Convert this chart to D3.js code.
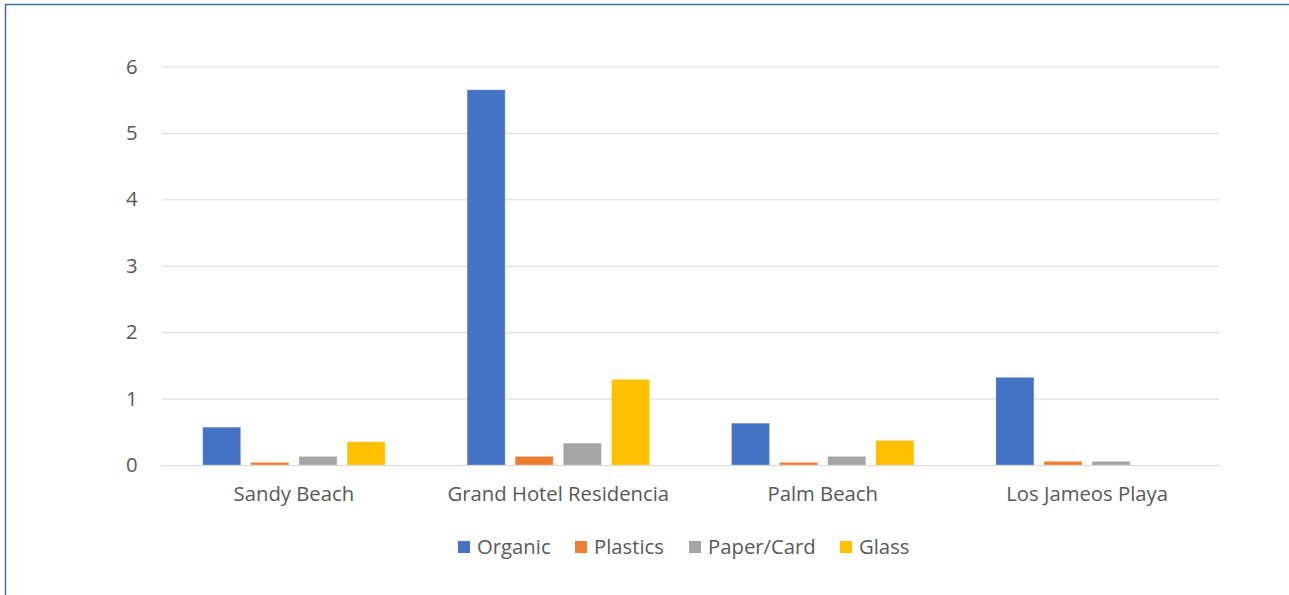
<!DOCTYPE html>
<html><head><meta charset="utf-8">
<script src="https://cdn.jsdelivr.net/npm/d3@7"></script>
<style>body{margin:0;background:#fff}svg{display:block}</style>
</head><body>
<svg id="c" width="1289" height="595"></svg>
<script>
const categories = ["Sandy Beach","Grand Hotel Residencia","Palm Beach","Los Jameos Playa"];
const seriesNames = ["Organic","Plastics","Paper/Card","Glass"];
const seriesColors = ["#4472C4","#ED7D31","#A5A5A5","#FFC000"];
const organic = [0.57, 5.65, 0.63, 1.32];
const plastics = [0.04, 0.13, 0.04, 0.055];
const paper = [0.13, 0.33, 0.13, 0.055];
const glass = [0.35, 1.29, 0.37, 0];
const yTicks = [0,1,2,3,4,5,6];

(function(){
const values = [organic, plastics, paper, glass];
const svg = d3.select("#c");
const font = "'Open Sans', sans-serif";
const fs = "20.3px";

svg.append("rect").attr("x",5.5).attr("y",4.5).attr("width",1400).attr("height",700)
  .attr("fill","none").attr("stroke","#41719C").attr("stroke-width",1.5);

const pL=161.7, pR=1219.3, pT=66.5, pB=465;
const y = d3.scaleLinear().domain([0,6]).range([pB,pT]);
const x0 = d3.scaleBand().domain(categories).range([pL,pR]).paddingInner(0.31).paddingOuter(0.155);
const x1 = d3.scaleBand().domain(seriesNames).range([0,x0.bandwidth()]).paddingInner(0.21).paddingOuter(0);

const yAxis = d3.axisLeft(y).tickValues(yTicks).tickSize(-(pR-pL)).tickPadding(24).tickFormat(d3.format("d"));
const gy = svg.append("g").attr("transform",`translate(${pL},0)`).call(yAxis);
gy.select(".domain").remove();
gy.selectAll(".tick line").attr("stroke","#D9D9D9").attr("stroke-width",1);
gy.selectAll(".tick text").attr("fill","#595959").style("font-family",font).style("font-size",fs);

const g = svg.append("g");
categories.forEach((c,ci)=>{
  seriesNames.forEach((s,si)=>{
    const v = values[si][ci];
    if(v<=0) return;
    g.append("rect").attr("x",x0(c)+x1(s)).attr("width",x1.bandwidth())
      .attr("y",y(v)).attr("height",y(0)-y(v)).attr("fill",seriesColors[si])
      .attr("stroke","#fff").attr("stroke-opacity",0.35).attr("stroke-width",0.8);
  });
});

const xAxis = d3.axisBottom(x0).tickSize(0).tickPadding(22);
const gx = svg.append("g").attr("transform",`translate(0,${pB})`).call(xAxis);
gx.select(".domain").attr("stroke","#D9D9D9");
gx.selectAll(".tick text").attr("fill","#595959").style("font-family",font).style("font-size",fs);

const legX = [458,575,689,840];
const lg = svg.append("g");
seriesNames.forEach((s,i)=>{
  lg.append("rect").attr("x",legX[i]).attr("y",541).attr("width",12).attr("height",12).attr("fill",seriesColors[i]);
  lg.append("text").attr("x",legX[i]+19).attr("y",547).attr("dy","0.35em").text(s)
    .attr("fill","#595959").style("font-family",font).style("font-size",fs);
});
})();
</script>
</body></html>
